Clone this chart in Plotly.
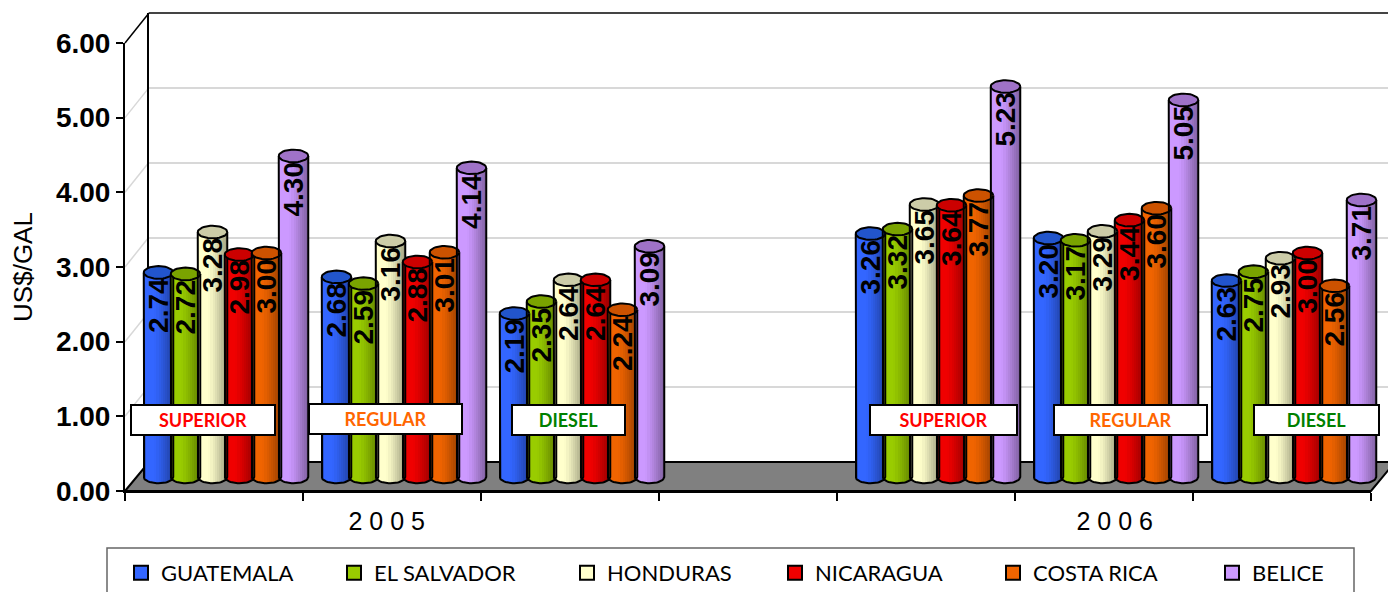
import math
import plotly.graph_objects as go

CATEGORY_POS = [0, 1, 2, 4, 5, 6]
FUEL_LABELS = ["SUPERIOR", "REGULAR", "DIESEL", "SUPERIOR", "REGULAR", "DIESEL"]
FUEL_COLORS = ["#FF0000", "#FF6600", "#008000", "#FF0000", "#FF6600", "#008000"]
YEARS = ["2 0 0 5", "2 0 0 6"]
YEAR_POS = [1.47, 5.56]
Y_TICKS = [0, 1, 2, 3, 4, 5, 6]

GUATEMALA = [2.74, 2.68, 2.19, 3.26, 3.20, 2.63]
EL_SALVADOR = [2.72, 2.59, 2.35, 3.32, 3.17, 2.75]
HONDURAS = [3.28, 3.16, 2.64, 3.65, 3.29, 2.93]
NICARAGUA = [2.98, 2.88, 2.64, 3.64, 3.44, 3.00]
COSTA_RICA = [3.00, 3.01, 2.24, 3.77, 3.60, 2.56]
BELICE = [4.30, 4.14, 3.09, 5.23, 5.05, 3.71]

SERIES = [
    ("GUATEMALA", GUATEMALA, (51, 102, 255), "#2255CC"),
    ("EL SALVADOR", EL_SALVADOR, (153, 204, 0), "#7AA300"),
    ("HONDURAS", HONDURAS, (255, 255, 204), "#CCCCA8"),
    ("NICARAGUA", NICARAGUA, (240, 0, 0), "#CC0000"),
    ("COSTA RICA", COSTA_RICA, (240, 100, 0), "#CC5200"),
    ("BELICE", BELICE, (204, 153, 255), "#9F72C8"),
]
LEGEND_TEXT_X = [161, 374, 607, 815, 1033, 1252]

W, H = 1388, 592
PX_CAT = 178.0
PX_UNIT = 74.67
STEP = 27 / PX_CAT
BAR_W = 29.5 / PX_CAT
RY = 6.3 / PX_UNIT
N_STRIPS = 14
LABEL_DROP = 3 / PX_UNIT


def fx(px):
    return px / W


def fy(py):
    return 1 - py / H


def shade(rgb, u):
    t = (u + 1) / 2
    k = 1 - 0.38 * max(0, (t - 0.35) / 0.65) ** 1.1
    return "rgb(%d,%d,%d)" % tuple(int(c * k) for c in rgb)


fig = go.Figure()

# keep the wall and front-frame axes alive
fig.add_trace(go.Scatter(x=[0], y=[0], mode="markers", marker=dict(opacity=0), xaxis="x", yaxis="y",
                         showlegend=False, hoverinfo="skip"))
fig.add_trace(go.Scatter(x=[0], y=[0], mode="markers", marker=dict(opacity=0), xaxis="x2", yaxis="y2",
                         showlegend=False, hoverinfo="skip"))

for i, (name, vals, rgb, top) in enumerate(SERIES):
    centers = [p + 0.5 + (i - 2.5) * STEP for p in CATEGORY_POS]
    fig.add_trace(go.Bar(
        x=centers, y=vals, width=BAR_W, name=name, xaxis="x3", yaxis="y3",
        marker=dict(color="rgb(%d,%d,%d)" % rgb, line=dict(color="black", width=2)),
        hoverinfo="skip", showlegend=False,
    ))
    sw = BAR_W / N_STRIPS
    for s in range(N_STRIPS):
        u = -1 + (2 * s + 0.5) / N_STRIPS
        dip = RY * math.sqrt(max(0.0, 1 - u * u))
        extra = sw * 0.6 if s < N_STRIPS - 1 else 0
        fig.add_trace(go.Bar(
            x=[c - BAR_W / 2 + s * sw + (sw + extra) / 2 for c in centers],
            y=[v + dip for v in vals], base=[-dip] * len(vals), width=sw + extra,
            xaxis="x3", yaxis="y3", showlegend=False, hoverinfo="skip",
            marker=dict(color=shade(rgb, u), line=dict(width=0)),
        ))
    fig.add_trace(go.Bar(
        x=centers, y=[v - LABEL_DROP for v in vals], width=BAR_W, xaxis="x3", yaxis="y3", showlegend=False,
        hoverinfo="skip", marker=dict(color="rgba(0,0,0,0)", line=dict(width=0)),
        text=[f"{v:.2f}" for v in vals], textposition="inside", textangle=-90,
        insidetextanchor="end", constraintext="none",
        insidetextfont=dict(family="Liberation Sans", size=28, color="black", weight="bold"),
    ))

for i, (name, vals, rgb, top) in enumerate(SERIES):
    centers = [p + 0.5 + (i - 2.5) * STEP for p in CATEGORY_POS]
    rx = BAR_W / 2
    ox, oy, ex, ey = [], [], [], []
    for c, v in zip(centers, vals):
        ox += [c - rx]
        oy += [v]
        for a in range(0, 25):
            th = math.pi + math.pi * a / 24
            ox.append(c + rx * math.cos(th))
            oy.append(RY * math.sin(th))
        ox += [c + rx, None]
        oy += [v, None]
        for a in range(0, 41):
            th = 2 * math.pi * a / 40
            ex.append(c + rx * math.cos(th))
            ey.append(v + RY * math.sin(th))
        ex.append(None)
        ey.append(None)
    fig.add_trace(go.Scatter(x=ox, y=oy, mode="lines", xaxis="x3", yaxis="y3",
                             line=dict(color="black", width=2), showlegend=False, hoverinfo="skip"))
    fig.add_trace(go.Scatter(x=ex, y=ey, mode="lines", fill="toself", fillcolor=top, xaxis="x3", yaxis="y3",
                             line=dict(color="black", width=2), showlegend=False, hoverinfo="skip"))

# legend entries, one legend per country so each sits where the reference has it
legends = {}
for i, (name, vals, rgb, top) in enumerate(SERIES):
    key = "legend" if i == 0 else f"legend{i + 1}"
    fig.add_trace(go.Scatter(
        x=[None], y=[None], mode="markers", name=name, legend=key, xaxis="x3", yaxis="y3",
        marker=dict(symbol="square", size=14, color="rgb(%d,%d,%d)" % rgb, line=dict(color="black", width=2)),
    ))
    legends[key] = dict(x=fx(LEGEND_TEXT_X[i] - 40), xanchor="left", y=fy(552), yanchor="top",
                        bgcolor="rgba(0,0,0,0)", borderwidth=0,
                        font=dict(family="Lato", size=22, color="black"))

shapes = [
    dict(type="path", xref="paper", yref="paper", layer="below",
         path=f"M{fx(125)},{fy(491)} L{fx(149)},{fy(462)} L{fx(1395)},{fy(462)} L{fx(1371)},{fy(491)} Z",
         fillcolor="#808080", line=dict(color="black", width=2)),
    dict(type="rect", xref="paper", yref="paper", layer="below",
         x0=fx(107), x1=fx(1354), y0=fy(548), y1=fy(610), fillcolor="white",
         line=dict(color="#666666", width=1.5)),
    dict(type="line", xref="paper", yref="paper", x0=fx(149), x1=fx(1388), y0=fy(13), y1=fy(13),
         layer="below", line=dict(color="#444444", width=2)),
    dict(type="line", xref="paper", yref="paper", x0=fx(125), x1=fx(149), y0=fy(43), y1=fy(13),
         layer="below", line=dict(color="black", width=1.5)),
]
for t in Y_TICKS[1:-1]:
    shapes.append(dict(type="line", xref="paper", yref="paper", layer="below",
                       x0=fx(125), x1=fx(149), y0=fy(491 - t * PX_UNIT), y1=fy(461 - t * PX_UNIT),
                       line=dict(color="#D8D8D8", width=1.5)))

BOXES = [(131, 275, 420), (309, 462, 419), (512, 625, 420), (870, 1017, 420), (1054, 1207, 420), (1254, 1379, 420)]
annotations = [
    dict(text=t, xref="paper", yref="paper", x=fx((b[0] + b[1]) / 2), y=fy(b[2]), showarrow=False,
         width=b[1] - b[0] - 4, height=26, bgcolor="white", bordercolor="black", borderwidth=2,
         font=dict(family="Lato", size=18, color=c, weight="bold"), xanchor="center", yanchor="middle")
    for t, c, b in zip(FUEL_LABELS, FUEL_COLORS, BOXES)
]

fig.update_layout(
    width=W, height=H, autosize=False, margin=dict(l=0, r=0, t=0, b=0, pad=0, autoexpand=False),
    paper_bgcolor="white", plot_bgcolor="rgba(0,0,0,0)", barmode="overlay", bargap=0,
    font=dict(family="Liberation Sans", color="black"),
    shapes=shapes, annotations=annotations,
    # back wall
    xaxis=dict(domain=[fx(149), 1], range=[0, 7], showgrid=False, zeroline=False, showticklabels=False, ticks=""),
    yaxis=dict(domain=[fy(462), fy(13)], range=[0, 6], anchor="x", tickvals=Y_TICKS, showticklabels=False, ticks="",
               showgrid=True, gridcolor="#D8D8D8", gridwidth=2, zeroline=False,
               showline=True, linecolor="black", linewidth=2),
    # front frame
    xaxis2=dict(domain=[fx(125), fx(1371)], range=[0, 7], anchor="y2", tickmode="array",
                tickvals=YEAR_POS, ticktext=YEARS, ticks="", showgrid=False, zeroline=False,
                tickfont=dict(family="Liberation Sans", size=25, color="black"), tickangle=0,
                ticklabelstandoff=7,
                minor=dict(tickmode="array", tickvals=list(range(8)), ticks="outside", ticklen=8,
                           tickcolor="black", tickwidth=1.5, showgrid=False),
                showline=True, linecolor="black", linewidth=2),
    yaxis2=dict(domain=[fy(491), fy(43)], range=[0, 6], anchor="x2", tickvals=Y_TICKS, tickformat=".2f",
                ticks="outside", ticklen=7, tickcolor="black", tickwidth=2, showgrid=False, zeroline=False,
                showline=True, linecolor="black", linewidth=2,
                tickfont=dict(family="Liberation Sans", size=28, color="black", weight="bold"),
                title=dict(text="US$/GAL", standoff=16, font=dict(family="Liberation Sans", size=26, color="black"))),
    # bars
    xaxis3=dict(domain=[fx(137), fx(1383)], range=[0, 7], anchor="y3", visible=False),
    yaxis3=dict(domain=[fy(477 + 0.2 * PX_UNIT), fy(29)], range=[-0.2, 6], anchor="x3", visible=False),
    **legends,
)

fig.write_html("out.html", config={"displayModeBar": False},
               post_script="document.body.style.margin='0';")
